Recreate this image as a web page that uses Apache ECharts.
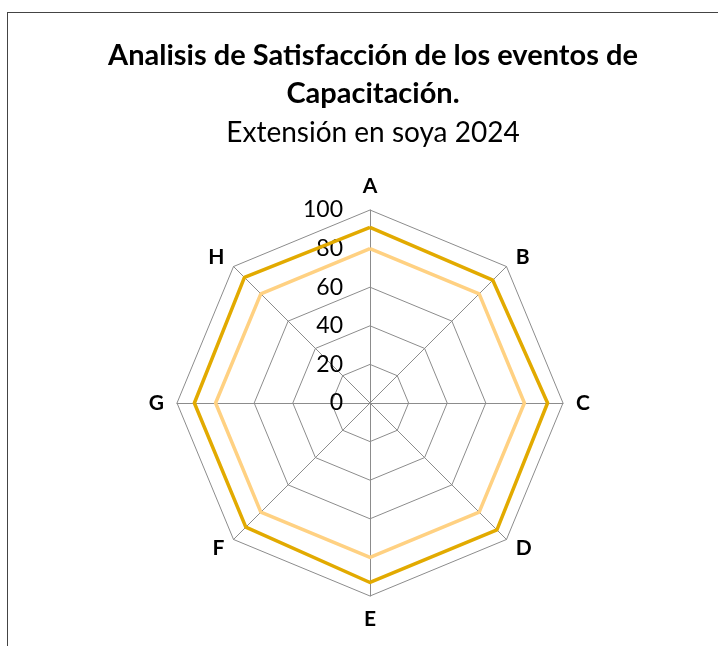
<!DOCTYPE html>
<html>
<head>
<meta charset="utf-8">
<script src="https://cdn.jsdelivr.net/npm/echarts@6/dist/echarts.min.js"></script>
<style>
  html, body { margin: 0; padding: 0; background: #fff; }
  #chart { position: absolute; left: 0; top: 0; width: 718px; height: 646px; }
  #frame { position: absolute; left: 7px; top: 12px; width: 800px; height: 700px;
           border: 1px solid #444; pointer-events: none; }
</style>
</head>
<body>
<div id="chart"></div>
<div id="frame"></div>
<script>
var categories = ['A', 'B', 'C', 'D', 'E', 'F', 'G', 'H'];
var serieOscura = [91, 90, 92, 93, 93, 91, 91, 92];
var serieClara = [80, 80, 80, 80, 80, 80, 80, 80];
var maxValor = 100;

var myChart = echarts.init(document.getElementById('chart'));

// el radar de echarts gira en sentido antihorario: A arriba, luego H, G ... B
function ordenHorario(arr) {
    return [arr[0]].concat(arr.slice(1).reverse());
}

var indicadores = ordenHorario(categories).map(function (c, i) {
    var ind = { name: c, max: maxValor, min: 0 };
    if (i === 0) {
        ind.axisLabel = { show: true };
    }
    return ind;
});

option = {
    title: {
        text: 'Analisis de Satisfacción de los eventos de\nCapacitación.',
        subtext: 'Extensión en soya 2024',
        left: 368,
        top: 32,
        textAlign: 'center',
        itemGap: 6,
        textStyle: {
            fontFamily: 'Lato',
            fontWeight: 'bold',
            fontSize: 29,
            lineHeight: 38,
            color: '#000'
        },
        subtextStyle: {
            fontFamily: 'Lato',
            fontSize: 28,
            color: '#000'
        }
    },
    radar: {
        center: [370, 403],
        radius: 193,
        shape: 'polygon',
        splitNumber: 5,
        startAngle: 90,
        nameGap: 13,
        axisName: {
            color: '#000',
            fontFamily: 'Lato',
            fontWeight: 'bold',
            fontSize: 21
        },
        axisLine: { lineStyle: { color: '#8c8c8c', width: 1 } },
        splitLine: { lineStyle: { color: '#8c8c8c', width: 1 } },
        splitArea: { show: false },
        axisLabel: {
            show: false,
            color: '#000',
            fontFamily: 'Lato',
            fontSize: 23,
            margin: 27
        },
        indicator: indicadores
    },
    series: [{
        type: 'radar',
        symbol: 'none',
        data: [
            {
                value: ordenHorario(serieOscura),
                lineStyle: { color: '#e2aa00', width: 3.5 },
                itemStyle: { color: '#e2aa00' }
            },
            {
                value: ordenHorario(serieClara),
                lineStyle: { color: '#ffd182', width: 3.5 },
                itemStyle: { color: '#ffd182' }
            }
        ]
    }]
};

myChart.setOption(option);
</script>
</body>
</html>
